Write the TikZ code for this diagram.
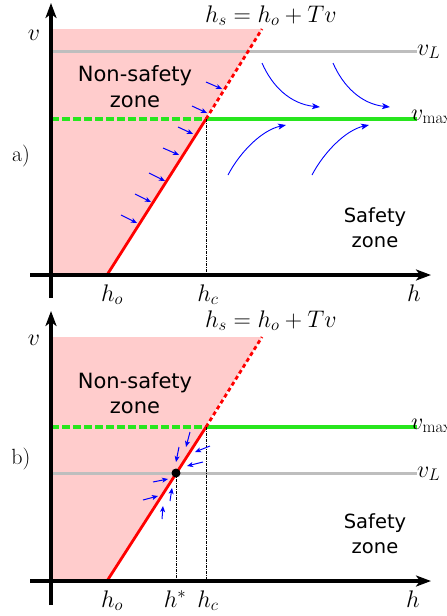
\RequirePackage{fix-cm}
\documentclass[tikz,border=0pt]{standalone}
\usepackage{fontspec}
\newfontfamily\zonefont{DejaVu Sans}
\usetikzlibrary{arrows.meta}
\definecolor{pinkfill}{RGB}{255,204,204}
\definecolor{limeg}{RGB}{40,230,30}
\definecolor{lgray}{RGB}{190,190,190}
\begin{document}
\begin{tikzpicture}[x=1pt,y=-1pt,
  axis/.style={line width=3.5pt,-{Stealth[length=15pt,width=11pt,inset=4pt]}},
  redline/.style={red,line width=2.8pt},
  reddash/.style={redline,dash pattern=on 4pt off 3pt},
  greenline/.style={limeg,line width=3.5pt},
  greendash/.style={greenline,dash pattern=on 8pt off 3pt},
  grayline/.style={lgray,line width=3pt},
  guide/.style={black,line width=0.7pt,dash pattern=on 3pt off 1pt on 1pt off 1pt},
  small/.style={blue,line width=1pt,-{Stealth[length=6pt,width=5pt,inset=1.5pt]}},
  big/.style={blue,line width=0.9pt,-{Stealth[length=8pt,width=6pt,inset=2pt]}},
  mlbl/.style={font=\fontsize{24}{28}\selectfont,inner sep=0pt},
  plbl/.style={font=\fontsize{22}{26}\selectfont,inner sep=0pt},
  zone/.style={font=\zonefont\fontsize{21}{25}\selectfont,inner sep=0pt},
  szone/.style={font=\zonefont\fontsize{19.5}{24}\selectfont,inner sep=0pt},
  dot/.style={circle,fill=black,inner sep=0pt,minimum size=9pt}
]
\useasboundingbox (0,0) rectangle (447,616);

% ================= panel a =================
\coordinate (a0) at (51,275);
\coordinate (aho) at (107,275);
\coordinate (ac) at (206,119);
\coordinate (atop) at (262,29);
\coordinate (ahc) at (206,275);
\coordinate (atl) at (51,29);
\fill[pinkfill] (atl) -- (atop) -- (aho) -- (a0) -- cycle;
\coordinate (avl0) at (51,51);
\coordinate (avl1) at (417,51);
\draw[grayline] (avl0) -- (avl1);
\coordinate (avm0) at (51,119);
\coordinate (avm1) at (417,119);
\draw[greendash] (avm0) -- (ac);
\draw[greenline] (ac) -- (avm1);
\draw[redline] (aho) -- (ac);
\draw[reddash] (ac) -- (atop);
\draw[guide] (ac) -- (ahc);
\coordinate (ahx0) at (30,275);
\coordinate (ahx1) at (431,275);
\coordinate (avx0) at (51,298);
\coordinate (avx1) at (51,3);
\draw[axis] (ahx0) -- (ahx1);
\draw[axis] (avx0) -- (avx1);

\draw[small] (121,215) -- (137,223);
\draw[small] (135,194) -- (151,202);
\draw[small] (149,173) -- (165,181);
\draw[small] (163,148) -- (179,155);
\draw[small] (178,127) -- (193,134);
\draw[small] (192,106) -- (207,113);
\draw[small] (206,82) -- (222,89);

\draw[big] (262,63) .. controls (272,86) and (290,104) .. (320,107);
\draw[big] (333,63) .. controls (343,86) and (361,104) .. (390,107);
\draw[big] (228,175) .. controls (240,152) and (262,130) .. (286,125);
\draw[big] (312,175) .. controls (324,152) and (346,130) .. (369,125);

\node[mlbl,anchor=base west] (aeq) at (205,22) {$h_s=h_o+Tv$};
\node[mlbl,anchor=base] (av) at (34,40) {$v$};
\node[mlbl,anchor=base west] (avL) at (417,55) {$v_L$};
\node[mlbl,anchor=base west] (avmax) at (411,120) {$v_{\mathrm{max}}$};
\node[plbl,anchor=base] (alab) at (21,161) {a)};
\node[mlbl,anchor=base] (aholbl) at (112,301) {$h_o$};
\node[mlbl,anchor=base] (ahclbl) at (208,301) {$h_c$};
\node[mlbl,anchor=base] (ahlbl) at (414,301) {$h$};
\node[zone,anchor=base] (ans1) at (135,81) {Non-safety};
\node[zone,anchor=base] (ans2) at (135,107) {zone};
\node[szone,anchor=base] (as1) at (375,222) {Safety};
\node[szone,anchor=base] (as2) at (375,247) {zone};

% ================= panel b =================
\coordinate (b0) at (51,581);
\coordinate (bho) at (107,581);
\coordinate (bc) at (206,427);
\coordinate (btop) at (262,337);
\coordinate (bhc) at (206,581);
\coordinate (btl) at (51,337);
\coordinate (bs) at (176,473);
\coordinate (bhs) at (176,581);
\fill[pinkfill] (btl) -- (btop) -- (bho) -- (b0) -- cycle;
\coordinate (bvm0) at (51,427);
\coordinate (bvm1) at (417,427);
\draw[greendash] (bvm0) -- (bc);
\draw[greenline] (bc) -- (bvm1);
\coordinate (bvl0) at (51,473);
\coordinate (bvl1) at (417,473);
\draw[grayline] (bvl0) -- (bvl1);
\draw[redline] (bho) -- (bc);
\draw[reddash] (bc) -- (btop);
\draw[guide] (bc) -- (bhc);
\draw[guide] (bs) -- (bhs);
\coordinate (bhx0) at (30,581);
\coordinate (bhx1) at (431,581);
\coordinate (bvx0) at (51,605);
\coordinate (bvx1) at (51,311);
\draw[axis] (bhx0) -- (bhx1);
\draw[axis] (bvx0) -- (bvx1);

\draw[small] (190,432) -- (186,447);
\draw[small] (179,447) -- (176,462);
\draw[small] (210,446) -- (195,452);
\draw[small] (203,462) -- (187,466);
\draw[small] (153,482) -- (168,479);
\draw[small] (143,500) -- (158,496);
\draw[small] (170,501) -- (172,488);
\draw[small] (162,519) -- (163,506);

\node[dot] (bdot) at (bs) {};

\node[mlbl,anchor=base west] (beq) at (205,327) {$h_s=h_o+Tv$};
\node[mlbl,anchor=base] (bv) at (34,345) {$v$};
\node[mlbl,anchor=base west] (bvL) at (417,477) {$v_L$};
\node[mlbl,anchor=base west] (bvmax) at (411,429) {$v_{\mathrm{max}}$};
\node[plbl,anchor=base] (blab) at (21,464) {b)};
\node[mlbl,anchor=base] (bholbl) at (112,607) {$h_o$};
\node[mlbl,anchor=base] (bhslbl) at (175,607) {$h^{*}$};
\node[mlbl,anchor=base] (bhclbl) at (208,607) {$h_c$};
\node[mlbl,anchor=base] (bhlbl) at (413,607) {$h$};
\node[zone,anchor=base] (bns1) at (135,388) {Non-safety};
\node[zone,anchor=base] (bns2) at (135,413) {zone};
\node[szone,anchor=base] (bs1) at (375,528) {Safety};
\node[szone,anchor=base] (bs2) at (375,553) {zone};
\end{tikzpicture}
\end{document}
